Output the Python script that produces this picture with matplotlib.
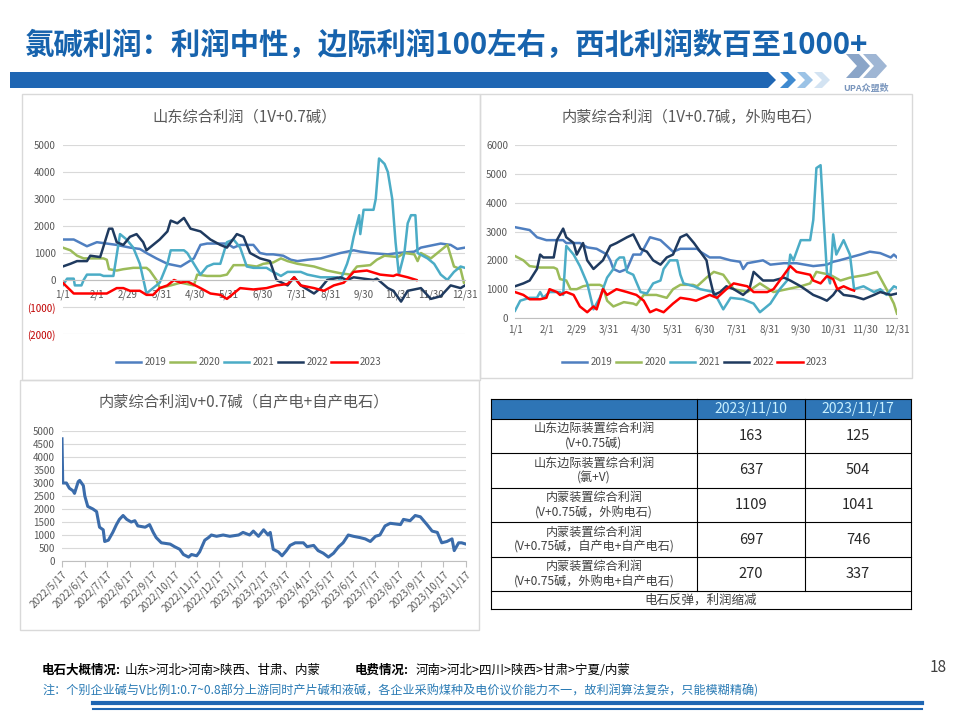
import matplotlib
matplotlib.use('Agg')
import matplotlib.pyplot as plt
import numpy as np
from matplotlib.patches import Rectangle, Polygon

plt.rcParams['font.family'] = ['Noto Sans CJK SC', 'DejaVu Sans']

W, H = 960, 720

# ---------------- data ----------------
year_labels = ['2019', '2020', '2021', '2022', '2023']
year_colors = ['#4f7fc0', '#9bbb59', '#4bacc6', '#1f3a5f', '#ff0000']

month_days = [0, 31, 59, 90, 120, 151, 181, 212, 243, 273, 304, 334, 365]
month_labels = ['1/1', '2/1', '2/29', '3/31', '4/30', '5/31', '6/30', '7/31',
                '8/31', '9/30', '10/31', '11/30', '12/31']

# Shandong (1V+0.7 caustic), day of year -> profit
sd_days_2019 = [0, 10, 22, 31, 49, 61, 70, 76, 85, 95, 107, 119, 125, 131, 149, 155, 161, 173, 179, 185,
                191, 200, 207, 213, 222, 234, 243, 252, 264, 270, 279, 295, 304, 319, 325, 337, 343, 352, 358, 365]
sd_vals_2019 = [1500, 1500, 1250, 1400, 1300, 1200, 1150, 1000, 800, 600, 500, 800, 1300, 1350, 1350, 1200, 1300, 1300, 1000, 950,
                950, 900, 750, 700, 750, 800, 900, 1000, 1100, 1050, 1000, 950, 1000, 1050, 1200, 1300, 1350, 1300, 1150, 1200]
sd_days_2020 = [0, 7, 13, 19, 37, 40, 42, 49, 55, 64, 76, 79, 85, 88, 98, 107, 119, 122, 131, 143,
                149, 155, 167, 176, 182, 191, 198, 204, 213, 228, 240, 252, 261, 267, 279, 285, 292, 304, 310, 319,
                322, 325, 334, 340, 349, 352, 355, 361, 364]
sd_vals_2020 = [1200, 1100, 900, 800, 800, 750, 400, 350, 400, 450, 450, 350, 0, -300, -200, -100, -200, 200, 150, 150,
                200, 550, 550, 500, 600, 650, 800, 700, 600, 500, 350, 250, 200, 500, 550, 750, 900, 850, 1000, 950,
                700, 1000, 800, 1000, 1300, 900, 500, 400, -100]
sd_days_2021 = [0, 4, 10, 11, 17, 19, 22, 34, 37, 46, 52, 58, 64, 67, 70, 76, 82, 88, 95, 98,
                110, 113, 119, 125, 131, 137, 143, 149, 155, 161, 167, 173, 185, 191, 198, 204, 216, 222, 234, 249,
                252, 258, 261, 264, 269, 270, 273, 282, 284, 287, 292, 295, 297, 299, 302, 305, 310, 313, 316, 320,
                322, 331, 337, 343, 349, 355, 361, 365]
sd_vals_2021 = [-200, 50, 50, -200, -200, 0, 200, 200, 150, 150, 1700, 1500, 1200, 900, 600, -500, -300, -100, 600, 1100,
                1100, 1000, 600, 200, 500, 600, 600, 1400, 1500, 1200, 500, 450, 450, 300, 150, 300, 300, 200, 100, 100,
                0, 600, 1000, 1600, 2400, 1700, 2600, 2600, 3000, 4500, 4300, 4000, 3500, 3000, 1400, 200, 1000, 2100, 2400, 2400,
                1000, 800, 600, 200, 0, 300, 500, 450]
sd_days_2022 = [0, 7, 13, 22, 25, 34, 42, 45, 49, 55, 61, 67, 73, 76, 82, 88, 95, 98, 104, 110,
                116, 125, 134, 143, 149, 158, 164, 170, 179, 188, 194, 204, 210, 216, 228, 234, 240, 252, 258, 264,
                282, 285, 295, 300, 307, 313, 325, 334, 343, 352, 361, 365]
sd_vals_2022 = [500, 600, 700, 700, 900, 850, 1900, 1900, 1400, 1300, 1600, 1700, 1400, 1100, 1300, 1500, 1800, 2200, 2100, 2300,
                1900, 1800, 1500, 1300, 1200, 1700, 1600, 1000, 800, 700, 0, -200, 100, -200, -500, -300, 0, 100, 0, 100,
                0, 50, -300, -400, -800, -400, -300, -700, -600, -200, -300, -200]
sd_days_2023 = [0, 10, 19, 40, 49, 55, 61, 70, 76, 82, 88, 95, 101, 107, 113, 125, 134, 143, 149, 155,
                161, 173, 185, 194, 204, 210, 216, 228, 237, 246, 255, 264, 276, 288, 300, 303, 313, 321]
sd_vals_2023 = [-100, -500, -500, -500, -300, -300, -400, -400, -550, -550, -300, -200, 0, -100, -50, -300, -500, -550, -700, -500,
                -300, -350, -300, -200, -150, 100, -200, -300, -400, -200, -100, 300, 350, 200, 150, 200, 100, 0]

# Inner Mongolia (1V+0.7 caustic, purchased carbide)
nm_days_2019 = [0, 14, 21, 30, 46, 49, 62, 69, 78, 88, 91, 94, 100, 107, 113, 120, 129, 139, 145, 151,
                158, 174, 177, 186, 196, 206, 215, 218, 222, 237, 244, 257, 269, 285, 298, 304, 310, 320, 330, 339,
                349, 359, 362, 365]
nm_vals_2019 = [3150, 3050, 2800, 2700, 2700, 2600, 2600, 2450, 2400, 2200, 2000, 1700, 1600, 1700, 2200, 2200, 2800, 2700, 2500, 2300,
                2400, 2400, 2300, 2100, 2100, 2000, 1950, 1700, 1900, 2000, 1850, 1900, 1900, 1800, 1850, 1950, 2000, 2100, 2200, 2300,
                2250, 2100, 2200, 2100]
nm_days_2020 = [0, 8, 14, 24, 37, 40, 43, 49, 53, 59, 65, 72, 81, 84, 88, 94, 104, 113, 116, 123,
                135, 145, 151, 158, 170, 174, 183, 190, 199, 209, 222, 234, 247, 260, 273, 282, 288, 301, 311, 320,
                336, 346, 355, 362, 365]
nm_vals_2020 = [2150, 2000, 1800, 1750, 1750, 1700, 1350, 1300, 1000, 1000, 1100, 1150, 1150, 1100, 600, 400, 550, 500, 450, 800,
                800, 700, 1000, 1150, 1150, 1100, 1400, 1600, 1500, 1000, 900, 1200, 900, 1000, 1100, 1200, 1600, 1500, 1300, 1400,
                1500, 1600, 1000, 500, 150]
nm_days_2021 = [0, 5, 14, 21, 24, 27, 33, 43, 46, 49, 56, 62, 69, 75, 81, 88, 94, 97, 100, 104,
                107, 113, 120, 126, 132, 139, 142, 148, 155, 158, 161, 171, 177, 190, 199, 206, 218, 228, 234, 244,
                253, 260, 263, 266, 273, 282, 285, 288, 292, 295, 298, 301, 304, 307, 314, 320, 324, 333, 343, 349,
                355, 362, 365]
nm_vals_2021 = [250, 600, 700, 700, 900, 700, 900, 900, 800, 2500, 2200, 1800, 1200, 300, 700, 1400, 1700, 2000, 2100, 2100,
                1600, 1500, 900, 850, 1200, 1300, 1700, 2000, 2000, 1500, 1200, 1100, 1000, 900, 300, 700, 650, 500, 200, 500,
                1000, 1300, 2200, 2000, 2700, 2700, 3400, 5200, 5300, 3400, 1600, 1200, 2900, 2200, 2700, 2200, 1000, 1100, 900, 1000,
                800, 1100, 1050]
nm_days_2022 = [0, 8, 14, 21, 24, 27, 37, 40, 46, 49, 56, 59, 65, 69, 75, 84, 91, 97, 107, 113,
                120, 126, 132, 139, 145, 151, 158, 164, 171, 177, 183, 186, 190, 196, 202, 209, 218, 224, 228, 237,
                247, 257, 263, 273, 285, 292, 298, 304, 308, 314, 324, 333, 343, 349, 359, 365]
nm_vals_2022 = [1100, 1200, 1300, 1700, 2200, 2100, 2100, 2700, 3100, 2800, 2600, 2200, 2600, 2000, 1700, 2000, 2500, 2600, 2800, 2900,
                2400, 2300, 2000, 1850, 2100, 2200, 2800, 2900, 2600, 2300, 2000, 1400, 800, 900, 1100, 1000, 800, 1000, 1600, 1300,
                1300, 1400, 1300, 1100, 800, 700, 600, 800, 1000, 800, 750, 650, 800, 900, 800, 850]
nm_days_2023 = [0, 8, 14, 24, 30, 33, 40, 43, 49, 56, 62, 69, 75, 78, 84, 88, 97, 107, 116, 123,
                129, 135, 142, 151, 158, 167, 173, 186, 193, 202, 209, 222, 228, 241, 247, 253, 263, 269, 282, 285,
                292, 298, 304, 308, 314, 320, 324]
nm_vals_2023 = [900, 800, 650, 650, 700, 1000, 900, 800, 900, 800, 400, 200, 400, 300, 1000, 800, 1000, 900, 800, 600,
                200, 300, 200, 500, 700, 650, 600, 800, 700, 1000, 1200, 1100, 900, 900, 1000, 1300, 1800, 1600, 1500, 1300,
                1200, 1450, 1350, 1000, 1100, 1000, 950]

# Inner Mongolia self-produced power + carbide, days since 2022-05-17
own_start = '2022-05-17'
own_days = [0, 1, 6, 10, 15, 17, 22, 24, 29, 31, 35, 42, 47, 51, 56, 58, 63, 67, 69, 74,
            78, 83, 88, 94, 99, 103, 113, 119, 124, 128, 135, 147, 153, 160, 165, 172, 176, 183, 187, 194,
            199, 203, 210, 219, 228, 240, 246, 255, 260, 267, 274, 280, 283, 287, 294, 299, 305, 310, 317, 328,
            333, 342, 348, 355, 362, 369, 376, 382, 389, 396, 405, 412, 419, 426, 432, 439, 446, 460, 464, 473,
            480, 487, 496, 503, 510, 516, 523, 530, 533, 539, 543, 549]
own_vals = [4700, 3000, 3000, 2800, 2700, 2600, 3050, 3100, 2900, 2500, 2100, 2000, 1900, 1300, 1200, 750, 800, 1000, 1100, 1400,
            1600, 1750, 1600, 1500, 1550, 1350, 1300, 1400, 1100, 900, 700, 650, 550, 450, 250, 150, 250, 200, 350, 800,
            900, 1000, 950, 1000, 950, 1000, 1100, 1000, 1150, 950, 1200, 1000, 1100, 450, 350, 200, 400, 600, 700, 700,
            550, 600, 400, 300, 150, 300, 550, 700, 1000, 950, 900, 850, 750, 950, 1000, 1350, 1450, 1400, 1600, 1550,
            1750, 1700, 1400, 1150, 1100, 700, 750, 850, 400, 700, 700, 650]

# table
table_dates = ['2023/11/10', '2023/11/17']
table_rows = ['山东边际装置综合利润\n(V+0.75碱)',
              '山东边际装置综合利润\n(氯+V)',
              '内蒙装置综合利润\n(V+0.75碱，外购电石)',
              '内蒙装置综合利润\n(V+0.75碱，自产电+自产电石)',
              '内蒙装置综合利润\n(V+0.75碱，外购电+自产电石)']
table_1110 = [163, 637, 1109, 697, 270]
table_1117 = [125, 504, 1041, 746, 337]
table_note = '电石反弹，利润缩减'


def rect(x0, y0, x1, y1):
    return [x0 / W, 1 - y1 / H, (x1 - x0) / W, (y1 - y0) / H]


fig = plt.figure(figsize=(9.6, 7.2), dpi=100)

# background layer in pixel coordinates
bg = fig.add_axes([0, 0, 1, 1])
bg.set_xlim(0, W)
bg.set_ylim(H, 0)
bg.axis('off')

bg.text(25, 45, '氯碱利润：利润中性，边际利润100左右，西北利润数百至1000+', fontsize=21.2,
        fontweight='bold', color='#1763ad', va='center', ha='left')

# banner with chevrons
bg.add_patch(Polygon([(10, 72), (768, 72), (776, 80), (768, 88), (10, 88)], color='#1f66b3', lw=0))
for x, c in [(780, '#3f8ad0'), (797, '#9cc3e6'), (814, '#d3e3f2')]:
    bg.add_patch(Polygon([(x, 72), (x + 8, 72), (x + 16, 80), (x + 8, 88), (x, 88), (x + 8, 80)], color=c, lw=0))
# logo
bg.add_patch(Polygon([(846, 54), (859, 54), (870, 66), (859, 78), (846, 78), (857, 66)], color='#8aa5c8', lw=0))
bg.add_patch(Polygon([(863, 54), (876, 54), (887, 66), (876, 78), (863, 78), (874, 66)], color='#9fb6d4', lw=0))
bg.text(866, 88, 'UPA众盟数', fontsize=6.5, fontweight='bold', color='#7a96bd', ha='center', va='center')

# panel borders
for x0, y0, x1, y1 in [(22, 94, 480, 380), (480, 94, 912, 378), (20, 380, 479, 630)]:
    bg.add_patch(Rectangle((x0, y0), x1 - x0, y1 - y0, fill=False, ec='#d9d9d9', lw=1))

# chart titles
bg.text(245, 117, '山东综合利润（1V+0.7碱）', fontsize=11, color='#595959', ha='center', va='center')
bg.text(692, 117, '内蒙综合利润（1V+0.7碱，外购电石）', fontsize=11, color='#595959', ha='center', va='center')
bg.text(244, 402, '内蒙综合利润v+0.7碱（自产电+自产电石）', fontsize=11, color='#595959', ha='center', va='center')

# table
cols = [491, 697, 805, 911]
rows = [399, 419, 453, 488, 522, 557, 591, 609]
bg.add_patch(Rectangle((cols[0], rows[0]), cols[-1] - cols[0], rows[1] - rows[0], color='#2e75b6', lw=0))
for j, d in enumerate(table_dates):
    bg.text((cols[j + 1] + cols[j + 2]) / 2, (rows[0] + rows[1]) / 2, d, fontsize=10,
            color='#c8f0ff', ha='center', va='center')
for i, lab in enumerate(table_rows):
    yc = (rows[i + 1] + rows[i + 2]) / 2
    bg.text((cols[0] + cols[1]) / 2, yc, lab, fontsize=8.7, color='#404040', ha='center', va='center',
            linespacing=1.2)
    bg.text((cols[1] + cols[2]) / 2, yc, str(table_1110[i]), fontsize=10.5, color='#262626', ha='center', va='center')
    bg.text((cols[2] + cols[3]) / 2, yc, str(table_1117[i]), fontsize=10.5, color='#262626', ha='center', va='center')
bg.text((cols[0] + cols[-1]) / 2, (rows[-2] + rows[-1]) / 2, table_note, fontsize=9, color='#404040',
        ha='center', va='center')
for y in rows:
    bg.plot([cols[0], cols[-1]], [y, y], color='#000000', lw=0.8)
for x in cols:
    bg.plot([x, x], [rows[0], rows[-1] if x in (cols[0], cols[-1]) else rows[-2]], color='#000000', lw=0.8)

# footer
bg.text(42, 670, '电石大概情况:', fontsize=9, fontweight='bold', color='#000000', va='center')
bg.text(125, 670, '山东>河北>河南>陕西、甘肃、内蒙', fontsize=9, color='#000000', va='center')
bg.text(355, 670, '电费情况:', fontsize=9, fontweight='bold', color='#000000', va='center')
bg.text(416, 670, '河南>河北>四川>陕西>甘肃>宁夏/内蒙', fontsize=9, color='#000000', va='center')
bg.text(938, 668, '18', fontsize=11, color='#404040', ha='center', va='center')
bg.text(42, 691, '注：个别企业碱与V比例1:0.7~0.8部分上游同时产片碱和液碱，各企业采购煤种及电价议价能力不一，故利润算法复杂，只能模糊精确)',
        fontsize=8.7, color='#2a7bb5', va='center')
bg.plot([93, 922], [703, 703], color='#1f66b3', lw=3)
bg.plot([93, 922], [708.5, 708.5], color='#1f66b3', lw=1.5)


def style_axis(ax, ylo, yhi, step, neg_red=False):
    ax.set_facecolor('none')
    ticks = list(range(ylo, yhi + 1, step))
    labels = [f'({-t})' if t < 0 else str(t) for t in ticks]
    ax.set_yticks(ticks)
    ax.set_yticklabels(labels)
    ax.set_ylim(ylo, yhi)
    ax.grid(axis='y', color='#d9d9d9', lw=0.8)
    ax.set_axisbelow(True)
    for s in ['left', 'top', 'right']:
        ax.spines[s].set_visible(False)
    ax.spines['bottom'].set_color('#bfbfbf')
    ax.tick_params(axis='y', length=0, labelsize=7, labelcolor='#595959', pad=5)
    if neg_red:
        for t, lab in zip(ticks, ax.get_yticklabels()):
            if t < 0:
                lab.set_color('#c00000')


# chart 1: Shandong
ax1 = fig.add_axes(rect(62.7, 145, 465, 334))
sd_days = [sd_days_2019, sd_days_2020, sd_days_2021, sd_days_2022, sd_days_2023]
sd_vals = [sd_vals_2019, sd_vals_2020, sd_vals_2021, sd_vals_2022, sd_vals_2023]
for d, v, lab, c in zip(sd_days, sd_vals, year_labels, year_colors):
    ax1.plot(d, v, color=c, lw=1.8, label=lab)
style_axis(ax1, -2000, 5000, 1000, neg_red=True)
ax1.spines['bottom'].set_position(('data', 0))
ax1.set_xlim(0, 365)
ax1.set_xticks(month_days)
ax1.set_xticklabels(month_labels)
ax1.tick_params(axis='x', length=0, labelsize=7, labelcolor='#595959', pad=7)
ax1.legend(loc='center', bbox_to_anchor=(249 / W, 1 - 362 / H), bbox_transform=fig.transFigure, ncol=5,
           frameon=False, fontsize=7, handlelength=2.6, handletextpad=0.35, columnspacing=0.35,
           labelcolor='#595959')

# chart 2: Inner Mongolia
ax2 = fig.add_axes(rect(515, 145, 897, 318))
nm_days = [nm_days_2019, nm_days_2020, nm_days_2021, nm_days_2022, nm_days_2023]
nm_vals = [nm_vals_2019, nm_vals_2020, nm_vals_2021, nm_vals_2022, nm_vals_2023]
for d, v, lab, c in zip(nm_days, nm_vals, year_labels, year_colors):
    ax2.plot(d, v, color=c, lw=1.8, label=lab)
style_axis(ax2, 0, 6000, 1000)
ax2.set_xlim(0, 365)
ax2.set_xticks(month_days)
ax2.set_xticklabels(month_labels)
ax2.tick_params(axis='x', length=0, labelsize=7, labelcolor='#595959', pad=5)
ax2.legend(loc='center', bbox_to_anchor=(695 / W, 1 - 362 / H), bbox_transform=fig.transFigure, ncol=5,
           frameon=False, fontsize=7, handlelength=2.6, handletextpad=0.35, columnspacing=0.35,
           labelcolor='#595959')

# chart 3: Inner Mongolia self-produced
ax3 = fig.add_axes(rect(62, 431, 466, 561))
own_x = np.datetime64(own_start) + np.array(own_days, dtype='timedelta64[D]')
ax3.plot(own_x, own_vals, color='#3b6cab', lw=2.2)
style_axis(ax3, 0, 5000, 500)
tick_dates = []
tick_labels = []
for i in range(19):
    y, m = 2022 + (4 + i) // 12, (4 + i) % 12 + 1
    tick_dates.append(np.datetime64(f'{y}-{m:02d}-17'))
    tick_labels.append(f'{y}/{m}/17')
ax3.set_xlim(tick_dates[0], tick_dates[-1])
ax3.set_xticks(tick_dates)
ax3.set_xticklabels(tick_labels, rotation=45, ha='right', rotation_mode='anchor')
ax3.tick_params(axis='x', length=4, color='#bfbfbf', labelsize=7.3, labelcolor='#595959', pad=2)

fig.savefig('out.png', dpi=100)
